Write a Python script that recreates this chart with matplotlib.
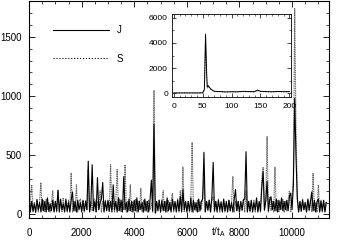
import numpy as np
import matplotlib.pyplot as plt
from matplotlib.ticker import MultipleLocator

# time grid of the main panel (t/t_A), one sample every 50
t = np.arange(0, 11350, 50)

J = [180, 20, 110, 30, 90, 15, 120, 40, 100, 20, 130, 30, 110, 20, 140, 25, 90, 30, 120, 20,
     110, 30, 200, 20, 130, 40, 90, 20, 130, 30, 100, 20, 120, 190, 30, 110, 20, 120, 40, 100,
     20, 120, 30, 110, 40, 450, 20, 90, 420, 30, 110, 20, 310, 40, 100, 130, 270, 20, 110, 30,
     120, 30, 110, 20, 250, 40, 110, 20, 140, 30, 120, 20, 320, 40, 100, 20, 130, 30, 110, 20,
     120, 30, 140, 20, 110, 40, 100, 20, 130, 30, 110, 20, 120, 290, 30, 760, 10, 110, 30, 120,
     20, 120, 30, 110, 20, 140, 30, 100, 20, 130, 40, 110, 20, 120, 30, 150, 20, 210, 40, 110,
     20, 110, 30, 140, 20, 120, 40, 100, 20, 130, 30, 110, 130, 525, 20, 110, 40, 120, 20, 140,
     440, 30, 110, 20, 120, 40, 100, 20, 130, 30, 110, 20, 120, 30, 100, 20, 130, 210, 30, 110,
     20, 110, 40, 120, 130, 530, 20, 110, 30, 120, 20, 100, 40, 140, 20, 110, 30, 230, 360, 40,
     110, 280, 30, 120, 150, 40, 110, 30, 130, 20, 120, 40, 140, 30, 110, 40, 120, 30, 150, 180,
     40, 250, 980, 490, 130, 20, 110, 30, 120, 40, 100, 20, 130, 40, 110, 190, 30, 120, 20, 110,
     130, 20, 110, 30, 120, 20, 100]

S = [60, 130, 250, 20, 100, 30, 130, 20, 110, 270, 30, 120, 20, 130, 40, 100, 20, 110, 200, 30,
     110, 20, 210, 40, 100, 20, 140, 30, 110, 20, 120, 40, 350, 20, 110, 30, 250, 20, 110, 130,
     30, 110, 20, 120, 40, 380, 20, 110, 30, 120, 130, 20, 110, 40, 200, 20, 110, 30, 120, 40,
     110, 20, 420, 40, 110, 20, 120, 380, 30, 130, 20, 110, 40, 420, 20, 110, 30, 250, 20, 110,
     30, 130, 20, 110, 40, 220, 20, 120, 30, 110, 20, 120, 40, 100, 20, 1050, 10, 30, 100, 120,
     20, 110, 200, 30, 110, 20, 120, 40, 110, 180, 20, 100, 30, 130, 20, 200, 30, 400, 20, 110,
     30, 110, 20, 120, 610, 20, 100, 30, 120, 20, 110, 40, 140, 300, 20, 110, 30, 120, 20, 120,
     150, 20, 110, 40, 130, 20, 110, 30, 110, 20, 100, 40, 120, 30, 110, 320, 20, 110, 30, 110,
     20, 100, 30, 130, 20, 200, 30, 110, 20, 110, 40, 120, 20, 110, 30, 100, 20, 300, 400, 30,
     120, 660, 20, 150, 30, 110, 20, 400, 30, 120, 20, 110, 40, 130, 20, 110, 30, 120, 200, 20,
     140, 300, 1740, 700, 150, 30, 110, 20, 130, 40, 100, 20, 120, 30, 120, 20, 350, 30, 100, 20,
     250, 30, 120, 20, 110, 30, 110]

# inset: early times
t_in = [0, 10, 20, 30, 40, 50, 53, 55, 57, 58, 60, 62, 65, 70, 80, 90, 100,
        110, 120, 130, 140, 145, 150, 160, 170, 180, 190, 200]
J_in = [20, 20, 25, 20, 20, 30, 300, 4700, 1500, 500, 600, 450, 300, 150, 130, 100, 120,
        110, 150, 130, 120, 250, 150, 130, 110, 140, 120, 130]
S_in = [10, 15, 20, 15, 15, 20, 200, 4200, 1200, 400, 500, 380, 250, 120, 110, 90, 100,
        100, 130, 110, 100, 200, 130, 110, 100, 120, 100, 110]

plt.rcParams['font.family'] = ['Liberation Sans', 'DejaVu Sans']
plt.rcParams['mathtext.fontset'] = 'custom'
plt.rcParams['mathtext.rm'] = 'Liberation Sans'
fsize = 7

fig = plt.figure(figsize=(3.38, 2.43), dpi=100)
ax = fig.add_axes([0.086, 0.103, 0.887, 0.891])
ax.plot(t, S, color='0.4', lw=0.8, ls=(0, (1, 0.6)), label='S')
ax.plot(t, J, '-', color='k', lw=0.8, label='J')
ax.set_xlim(0, 11400)
ax.set_ylim(-30, 1800)
ax.set_xticks([0, 2000, 4000, 6000, 8000, 10000])
ax.set_yticks([0, 500, 1000, 1500])
ax.xaxis.set_minor_locator(MultipleLocator(500))
ax.yaxis.set_minor_locator(MultipleLocator(100))
ax.tick_params(which='both', direction='in', top=True, right=True, labelsize=fsize)
ax.tick_params(which='major', length=4, width=0.6)
ax.tick_params(which='minor', length=2, width=0.5)
ax.tick_params(axis='x', pad=7)
ax.tick_params(axis='y', pad=5)
for sp in ax.spines.values():
    sp.set_linewidth(0.8)

h, l = ax.get_legend_handles_labels()
leg = ax.legend(h[::-1], l[::-1], loc='upper left', bbox_to_anchor=(0.05, 0.93),
                frameon=False, fontsize=fsize, handlelength=5.8, handletextpad=0.8,
                labelspacing=1.9)
leg.get_lines()[0].set_linewidth(0.8)
leg.get_lines()[1].set_linestyle(':')
leg.get_lines()[1].set_color('k')

fig.text(218 / 338, 1 - 232 / 243, r'$\mathrm{t/t_A}$', fontsize=fsize,
         ha='center', va='center')

# inset
axi = fig.add_axes([0.509, 0.601, 0.352, 0.341])
axi.plot(t_in, S_in, ':', color='0.35', lw=0.7)
axi.plot(t_in, J_in, '-', color='k', lw=0.7)
axi.set_xlim(-3, 203)
axi.set_ylim(-300, 6300)
axi.set_xticks([0, 50, 100, 150, 200])
axi.set_yticks([0, 2000, 4000, 6000])
axi.xaxis.set_minor_locator(MultipleLocator(10))
axi.yaxis.set_minor_locator(MultipleLocator(1000))
axi.tick_params(which='both', direction='in', top=True, right=True, labelsize=6)
axi.tick_params(which='major', length=3, width=0.5)
axi.tick_params(which='minor', length=1.5, width=0.4)
axi.tick_params(axis='x', pad=4)
axi.tick_params(axis='y', pad=3)
for sp in axi.spines.values():
    sp.set_linewidth(0.6)

plt.savefig('out.png', dpi=100)
plt.close()
